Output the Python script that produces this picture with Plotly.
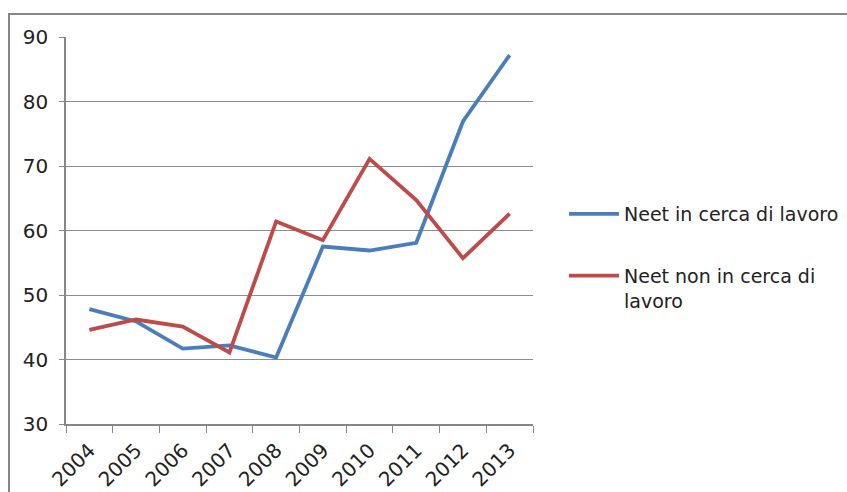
import plotly.graph_objects as go

years = ["2004", "2005", "2006", "2007", "2008", "2009", "2010", "2011", "2012", "2013"]
neet_cerca = [47.8, 45.9, 41.7, 42.2, 40.3, 57.5, 56.9, 58.1, 76.9, 87.2]
neet_non_cerca = [44.6, 46.2, 45.1, 41.1, 61.4, 58.5, 71.1, 64.7, 55.7, 62.6]
series_names = ["Neet in cerca di lavoro", "Neet non in cerca di<br>lavoro"]
y_ticks = [30, 40, 50, 60, 70, 80, 90]

W, H = 847, 492
L, R, T, B = 66, 533, 37, 424

fig = go.Figure()
fig.add_trace(go.Scatter(x=years, y=neet_cerca, mode="lines", name=series_names[0],
                         line=dict(color="#4A7EBB", width=3.8), legendgroup="a"))
fig.add_trace(go.Scatter(x=years, y=neet_non_cerca, mode="lines", name=series_names[1],
                         line=dict(color="#BE4B48", width=3.8), legendgroup="b"))

def px_x(p):
    return (p - L) / (R - L)

def px_y(p):
    return (B - p) / (B - T)

fig.update_layout(
    width=W, height=H,
    margin=dict(l=L, r=W - R, t=T, b=H - B, autoexpand=False),
    paper_bgcolor="white", plot_bgcolor="white",
    font=dict(family="DejaVu Sans", size=19, color="#222222"),
    showlegend=True,
    legend=dict(x=px_x(564), y=px_y(195), xanchor="left", yanchor="top",
                tracegroupgap=34, itemwidth=50, traceorder="grouped", valign="top",
                font=dict(size=19, color="#222222"), bgcolor="rgba(0,0,0,0)"),
    xaxis=dict(type="category", range=[-0.5, 9.5], showgrid=False,
               showline=True, linecolor="#868686", linewidth=1.5,
               ticks="outside", tickson="boundaries", ticklen=7, tickcolor="#868686",
               ticklabelstandoff=5, tickangle=-45, tickfont=dict(size=20)),
    yaxis=dict(range=[30, 90], tickvals=y_ticks, showgrid=True, gridcolor="#8c8c8c", gridwidth=1,
               showline=True, linecolor="#868686", linewidth=1.5,
               ticks="outside", ticklen=5, tickcolor="#868686", ticklabelstandoff=7,
               zeroline=False, tickfont=dict(size=20)),
)

# outer chart frame (top and left edges visible)
fig.add_shape(type="line", xref="paper", yref="paper",
              x0=px_x(8), x1=px_x(W + 5), y0=px_y(14), y1=px_y(14),
              line=dict(color="#868686", width=2))
fig.add_shape(type="line", xref="paper", yref="paper",
              x0=px_x(9), x1=px_x(9), y0=px_y(14), y1=px_y(H + 5),
              line=dict(color="#868686", width=2))

fig.write_html("out.html")
